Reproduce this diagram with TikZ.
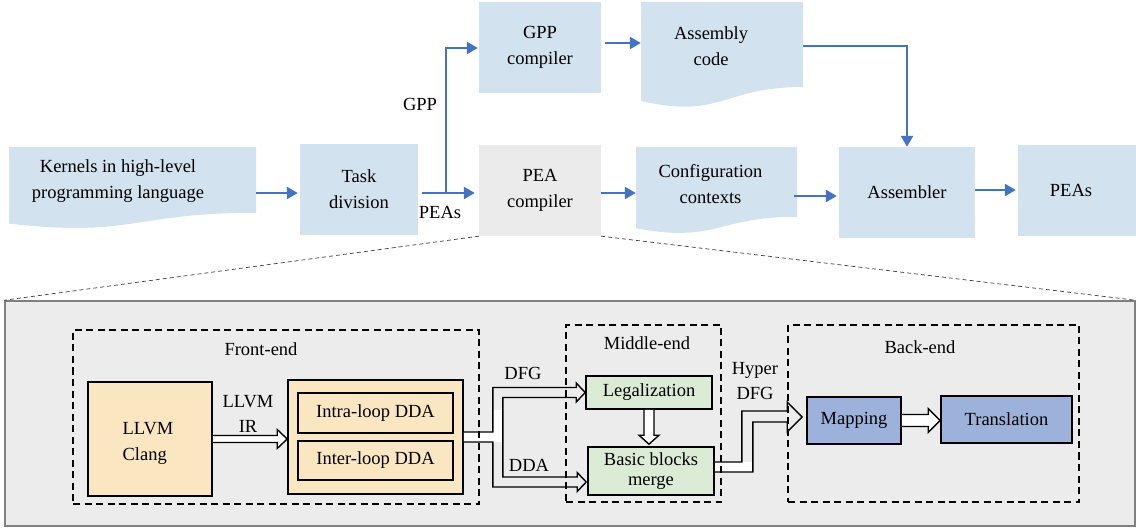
\documentclass[tikz,border=0pt]{standalone}
\usepackage{fontspec}
\setmainfont{Liberation Serif}
\usetikzlibrary{calc,arrows.meta}

\definecolor{paleblue}{RGB}{210,226,239}
\definecolor{palegray}{RGB}{235,235,235}
\definecolor{flowblue}{RGB}{68,114,196}
\definecolor{panelgray}{RGB}{236,236,236}
\definecolor{panelline}{RGB}{128,128,128}
\definecolor{wheat}{RGB}{250,230,193}
\definecolor{mint}{RGB}{220,235,214}
\definecolor{steel}{RGB}{157,178,219}

\tikzset{
  % rectangle given by its left, top, right and bottom edges
  span/.style n args={4}{minimum width={(#3-#1)*1pt}, minimum height={(#4-#2)*1pt},
    at={({(#1+#3)/2},{(#2+#4)/2})}},
  txt/.style={font=\fontsize{18.5}{26}\selectfont, align=center, inner sep=0pt},
  box/.style={txt, fill=paleblue},
  docarea/.style={inner sep=0pt},
  flow/.style={draw=flowblue, line width=2.4pt, -{Triangle[length=11pt,width=12pt]}},
  zoomline/.style={draw=black!75, line width=0.7pt, dash pattern=on 4pt off 3pt},
  stage/.style={draw=black, line width=1.8pt, dash pattern=on 7pt off 4.5pt, inner sep=0pt},
  block/.style={txt, draw=black, line width=1.6pt},
  hollow/.style={draw=black, line width=1.4pt, fill=white, line join=miter},
}

% document shape: left x, right x, top y, nominal height
\newcommand\docshape[4]{%
  \fill[paleblue] (#1,#3) -- (#2,#3) -- (#2,{#3+0.802*#4})
    .. controls ({(#1+#2)/2},{#3+0.802*#4}) and ({(#1+#2)/2},{#3+1.1075*#4})
    .. (#1,{#3+0.934*#4}) -- cycle;}

% horizontal hollow arrow: from, to, half shaft, half head, head length
\newcommand\hollowh[5]{%
  \draw[hollow] let \p1=(#1), \p2=(#2) in
    (\x1,\y1+#3) -- (\x2-#5,\y1+#3) -- (\x2-#5,\y1+#4) -- (\x2,\y1)
    -- (\x2-#5,\y1-#4) -- (\x2-#5,\y1-#3) -- (\x1,\y1-#3);}

% downward hollow arrow: from, to, half shaft, half head, head length
\newcommand\hollowv[5]{%
  \draw[hollow] let \p1=(#1), \p2=(#2) in
    (\x1-#3,\y1) -- (\x1-#3,\y2+#5) -- (\x1-#4,\y2+#5) -- (\x1,\y2)
    -- (\x1+#4,\y2+#5) -- (\x1+#3,\y2+#5) -- (\x1+#3,\y1);}

\begin{document}
\begin{tikzpicture}[x=1pt,y=-1pt]
\useasboundingbox (0,0) rectangle (1136,529);

% ---------- upper flow ----------
\docshape{9}{256}{147}{82}
\node[docarea, span={9}{147}{256}{229},
  label={[txt,xshift=-14.5pt,yshift=6.5pt]center:{Kernels in high-level\\programming language}}] (kern) {};
\node[box, span={300}{144}{418}{235}] (task) {Task\\division};
\node[box, span={479}{2}{601}{93}] (gpp) {GPP\\compiler};
\node[box, fill=palegray, span={479}{145}{601}{236}] (pea) {PEA\\compiler};
\docshape{641}{803}{2}{106}
\node[docarea, span={641}{2}{803}{108},
  label={[txt,xshift=-11pt,yshift=8.5pt]center:{Assembly\\code}}] (asm) {};
\docshape{636}{797}{147}{87}
\node[docarea, span={636}{147}{797}{234},
  label={[txt,xshift=-6pt,yshift=6pt]center:{Configuration\\contexts}}] (cfg) {};
\node[box, span={839}{147}{975}{238}] (assembler) {Assembler};
\node[box, span={1018}{145}{1136}{236},
  label={[txt,xshift=-6pt]center:PEAs}] (peas) {};

\draw[flow, shorten >=2pt] (kern.east |- 0,193) -- (task.west |- 0,193);
\draw[flow] ([xshift=4pt]task.east |- 0,193) -- ([xshift=-4pt]pea.west |- 0,193);
\coordinate (split) at (446,193);
\draw[flow] (split) |- ([xshift=-1pt]gpp.west |- 0,48);
\draw[flow] ([xshift=4pt]gpp.east |- 0,43) -- (asm.west |- 0,43);
\draw[flow] (asm.east |- 0,46) -| (assembler.north);
\draw[flow] (pea.east |- 0,193) -- (cfg.west |- 0,193);
\draw[flow] ([xshift=-3pt]cfg.east |- 0,196) -- ([xshift=-2pt]assembler.west |- 0,196);
\draw[flow] (assembler.east |- 0,190) -- ([xshift=-2pt]peas.west |- 0,190);

\node[txt] (gpplabel) at (420,104) {GPP};
\node[txt] (pealabel) at (440,212) {PEAs};

% ---------- compiler detail panel ----------
\node[span={5}{301}{1135}{526}, fill=panelgray, draw=panelline, line width=1.5pt, inner sep=0pt] (panel) {};
\draw[zoomline] (pea.south west) -- (panel.north west);
\draw[zoomline] (pea.south east) -- (panel.north east);

\node[block, fill=wheat, span={88}{382}{212}{496}] (clang) {};
\node[txt, align=left] (clangtext) at (148,443) {LLVM\\Clang};
\node[block, fill=wheat, span={288}{380}{463}{494}] (dda) {};
\node[block, fill=wheat, span={298}{393}{453}{433}] (intra) {Intra-loop DDA};
\node[block, fill=wheat, span={298}{441}{453}{480}] (inter) {Inter-loop DDA};
\node[block, fill=mint, span={586}{376}{712}{409}] (legal) {Legalization};
\node[block, fill=mint, span={588}{447}{714}{495}, font=\fontsize{18.5}{20}\selectfont] (merge) {Basic blocks\\merge};
\node[block, fill=steel, span={807}{397}{901}{444}] (map) {Mapping};
\node[block, fill=steel, span={941}{396}{1072}{443}] (trans) {Translation};

\node[txt, font=\fontsize{18.5}{25}\selectfont] (irlabel) at (248,414) {LLVM\\IR};
\node[txt] (dfglabel) at (523,373) {DFG};
\node[txt] (ddalabel) at (529,465) {DDA};
\node[txt, font=\fontsize{18.5}{25}\selectfont] (hyperlabel) at (755,381.5) {Hyper\\DFG};

% wide arrows between stages
\hollowh{clang.east}{dda.west |- clang.east}{3.5pt}{9.5pt}{10pt}
\hollowh{map.east}{trans.west |- map.east}{6pt}{12pt}{12pt}
\hollowv{legal.south}{[yshift=2pt]merge.north -| legal.south}{5pt}{10pt}{9pt}

% split arrow: DFG to legalization, DDA to block merge
\fill[white] let \p1=(dda.east) in
  (\x1,\y1+5pt) rectangle (\x1+39pt,\y1-5pt)
  (\x1+29pt,\y1+27pt) rectangle (\x1+39pt,\y1);
\draw[black, line width=1.4pt, line join=miter] let \p1=(dda.east), \p2=(legal.west), \p3=(merge.west) in
  (\x1,\y1+5pt) -- (\x1+29pt,\y1+5pt) -- (\x1+29pt,\y2+5pt) -- (\x2-9pt,\y2+5pt)
  -- (\x2-9pt,\y2+9.5pt) -- (\x2,\y2) -- (\x2-9pt,\y2-9.5pt) -- (\x2-9pt,\y2-5pt)
  -- (\x1+39pt,\y2-5pt) -- (\x1+39pt,\y3-6pt) -- (\x3-10pt,\y3-6pt)
  -- (\x3-10pt,\y3-1.5pt) -- (\x3-1pt,\y3-11pt) -- (\x3-10pt,\y3-20.5pt)
  -- (\x3-10pt,\y3-16pt) -- (\x1+29pt,\y3-16pt) -- (\x1+29pt,\y1-5pt) -- (\x1,\y1-5pt);

% hyper DFG arrow to mapping
\fill[white] let \p1=(merge.east) in (\x1,\y1-1pt) rectangle (\x1+38pt,\y1+9pt);
\draw[black, line width=1.4pt, line join=miter] let \p1=(merge.east), \p2=(map.west) in
  (\x1,\y1-1pt) -- (\x1+38pt,\y1-1pt) -- (\x1+38pt,\y2-1.5pt) -- (\x2-19pt,\y2-1.5pt)
  -- (\x2-19pt,\y2-11.5pt) -- (\x2-4pt,\y2+3.5pt) -- (\x2-19pt,\y2+18.5pt)
  -- (\x2-19pt,\y2+9.5pt) -- (\x1+27pt,\y2+9.5pt) -- (\x1+27pt,\y1+9pt) -- (\x1,\y1+9pt);

% stage frames
\node[stage, span={73}{330}{479}{504}] (front) {};
\node[stage, span={566}{325}{721}{502}] (middle) {};
\node[stage, span={788}{325}{1079}{502}] (back) {};
\node[txt] (frontlabel) at (261,349) {Front-end};
\node[txt] (middlelabel) at (647,343) {Middle-end};
\node[txt] (backlabel) at (920,347) {Back-end};
\end{tikzpicture}
\end{document}
